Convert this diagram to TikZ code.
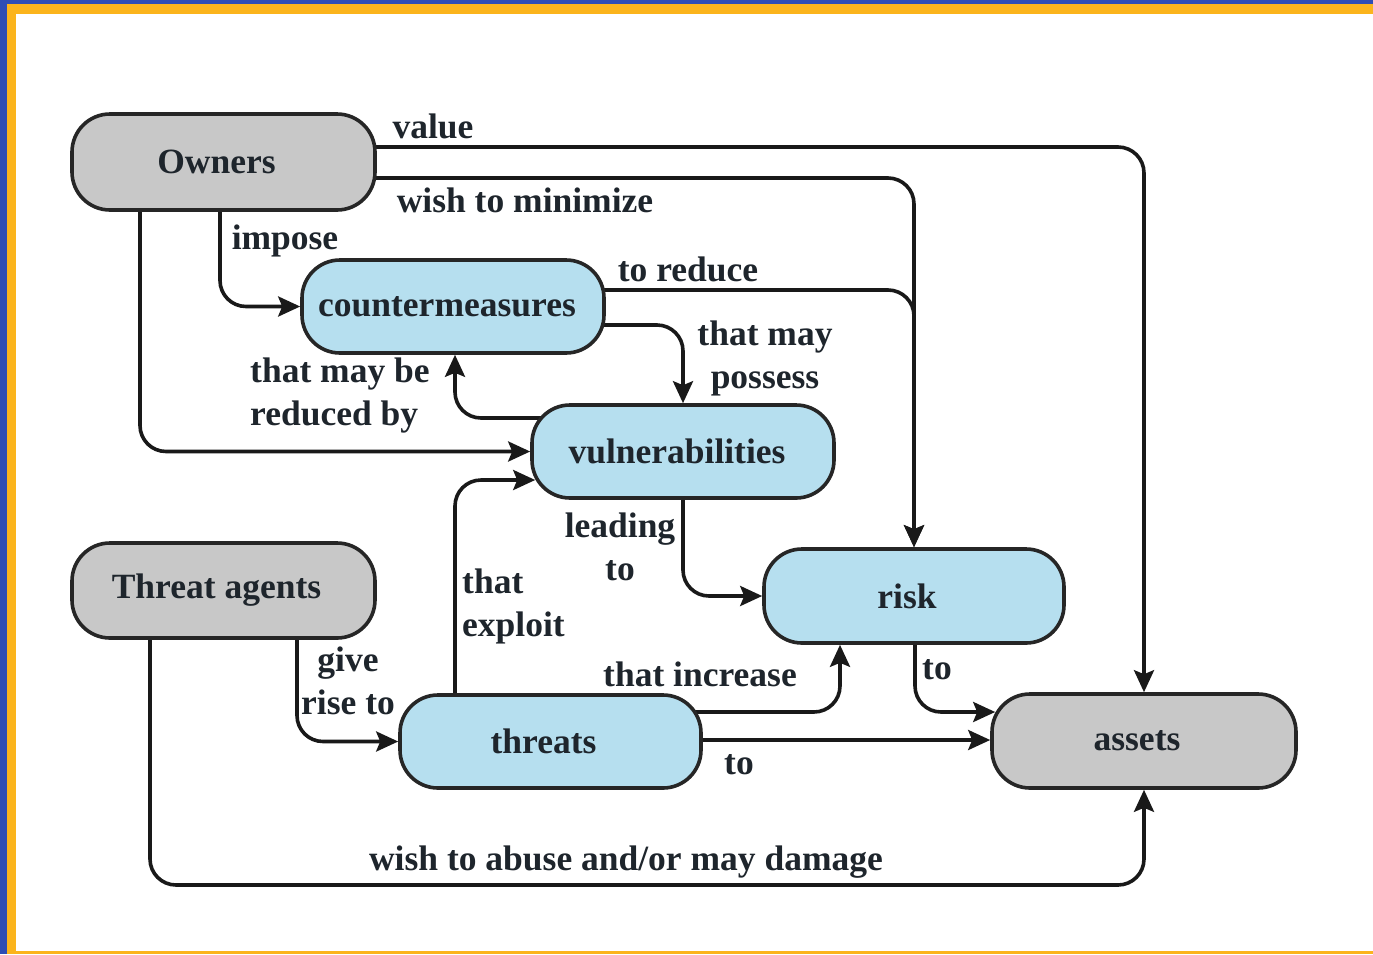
\documentclass[tikz,border=0pt]{standalone}
\usepackage{fontspec}
\setmainfont{Liberation Serif}
\usetikzlibrary{arrows.meta,backgrounds,calc}
\definecolor{bordblue}{HTML}{2E4DB5}
\definecolor{bordorange}{HTML}{FBB41C}
\definecolor{boxgray}{HTML}{C8C8C8}
\definecolor{boxblue}{HTML}{B6DFEF}
\definecolor{txt}{HTML}{1E252C}
\tikzset{
  box/.style={draw=black!85, line width=3.6pt, rounded corners=38pt, inner sep=0pt,
    font=\fontsize{35.5}{43}\selectfont\bfseries, text=txt},
  graybox/.style={box, fill=boxgray},
  bluebox/.style={box, fill=boxblue},
  conn/.style={draw=black!90, line width=3.6pt, rounded corners=26pt,
    -{Stealth[length=22pt,width=20pt,inset=4pt]}},
  lbl/.style={font=\fontsize{35.5}{43}\selectfont\bfseries, text=txt, inner sep=0pt, align=center},
  lbll/.style={lbl, align=left},
}
\begin{document}
\begin{tikzpicture}[x=1pt,y=-1pt]
\useasboundingbox (0,0) rectangle (1373,954);
% nodes
\node[graybox, minimum width=303pt, minimum height=96pt] (owners) at (223.5,162) {Owners\hspace*{14pt}};
\node[bluebox, minimum width=302pt, minimum height=93pt] (counter) at (453,306.5) {countermeasures\hspace*{12pt}};
\node[bluebox, minimum width=302pt, minimum height=93pt] (vuln) at (683,451.5) {vulnerabilities\hspace*{12pt}};
\node[graybox, minimum width=303pt, minimum height=95pt] (agents) at (223.5,590.5) {Threat agents\hspace*{14pt}};
\node[bluebox, minimum width=300pt, minimum height=94pt] (risk) at (914,596) {risk\hspace*{14pt}};
\node[bluebox, minimum width=301pt, minimum height=93pt] (threats) at (550.5,741.5) {threats\hspace*{14pt}};
\node[graybox, minimum width=304pt, minimum height=94pt] (assets) at (1144,741) {assets\hspace*{14pt}};
% labels
\node[lbl] (lvalue) at (433,126) {value};
\node[lbl] (lmin) at (525,200) {wish to minimize};
\node[lbl] (limpose) at (285,241) {impose};
\node[lbl] (lreduce) at (688,269) {to reduce};
\node[lbl] (lpossess) at (765,358) {that may\\possess};
\node[lbll, anchor=west] (lreduced) at (250,396) {that may be\\reduced by};
\node[lbl] (lleading) at (620,547) {leading\\to};
\node[lbll, anchor=west] (lexploit) at (462,606) {that\\exploit};
\node[lbl] (lrise) at (348,681) {give\\rise to};
\node[lbl] (lincrease) at (700,674) {that increase};
\node[lbl] (lto1) at (739,765) {to};
\node[lbl] (lto2) at (937,670) {to};
\node[lbl] (labuse) at (626,862) {wish to abuse and/or may damage};
\begin{scope}[on background layer]
  \fill[bordblue] (0,0) rectangle (1373,954);
  \fill[bordorange] (7,4) rectangle (1373,954);
  \fill[white] (16,14) rectangle (1373,951);
  % connectors
  \draw[conn] (owners.center |- 0,147) -| (assets.north);
  \draw[conn] (owners.center |- 0,178) -| (risk.north);
  \draw[conn] (owners.south -| 220,0) |- (counter.west);
  \draw[conn] (owners.south -| 140,0) |- (vuln.west);
  \draw[conn] (counter.center |- 0,290) -| (risk.north);
  \draw[conn] (counter.center |- 0,325) -| (vuln.north);
  \draw[conn] (vuln.center |- 0,418) -| (counter.south -| 455,0);
  \draw[conn] (vuln.south) |- (risk.west);
  \draw[conn] (agents.south -| 297,0) |- (threats.west);
  \draw[conn] (agents.south -| 150,0) |- (assets.south |- 0,885) -- (assets.south);
  \draw[conn] (threats.north -| 455,0) |- ($(vuln.west |- 0,480)+(5,0)$);
  \draw[conn] (threats.center |- 0,712) -| (risk.south -| 840,0);
  \draw[conn] (threats.east |- 0,740) -- (assets.west |- 0,740);
  \draw[conn] (risk.south -| 915,0) |- ($(assets.west |- 0,712)+(5,0)$);
\end{scope}
\end{tikzpicture}
\end{document}
